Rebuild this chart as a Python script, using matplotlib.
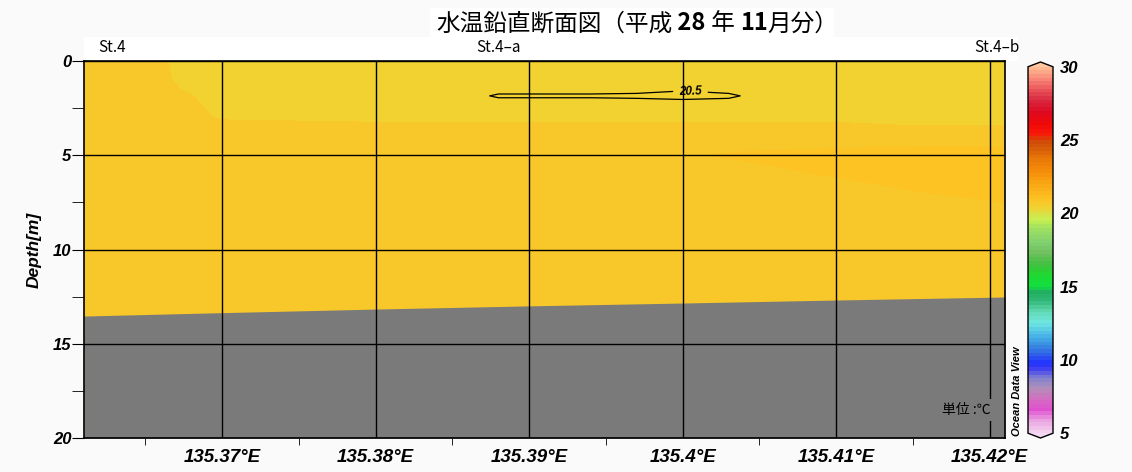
import numpy as np
import matplotlib
matplotlib.use('Agg')
import matplotlib.pyplot as plt
from matplotlib.colors import LinearSegmentedColormap, Normalize
from matplotlib.cm import ScalarMappable
from matplotlib.patches import Rectangle

# grid nodes of the section (longitude, depth) and temperature
lon_grid = [135.361, 135.3655, 135.3675, 135.370, 135.380, 135.386, 135.388, 135.394,
            135.397, 135.400, 135.403, 135.405, 135.410, 135.415, 135.421]
depth_grid = [0, 1, 1.5, 1.85, 2.2, 3.0, 3.5, 4.2, 5.0, 6.0, 7.0, 8.0, 20]
temp = [
    [20.75, 20.75, 20.45, 20.45, 20.45, 20.45, 20.45, 20.45, 20.45, 20.45, 20.45, 20.45, 20.45, 20.45, 20.45],
    [20.75, 20.75, 20.50, 20.45, 20.45, 20.45, 20.45, 20.45, 20.45, 20.45, 20.45, 20.45, 20.45, 20.45, 20.45],
    [20.75, 20.75, 20.58, 20.45, 20.45, 20.45, 20.45, 20.45, 20.45, 20.48, 20.45, 20.45, 20.45, 20.45, 20.45],
    [20.75, 20.75, 20.65, 20.45, 20.45, 20.45, 20.52, 20.52, 20.53, 20.56, 20.53, 20.45, 20.45, 20.45, 20.45],
    [20.75, 20.75, 20.70, 20.45, 20.45, 20.45, 20.45, 20.45, 20.45, 20.45, 20.45, 20.45, 20.45, 20.45, 20.45],
    [20.75, 20.75, 20.75, 20.55, 20.45, 20.45, 20.45, 20.45, 20.45, 20.45, 20.45, 20.45, 20.45, 20.45, 20.45],
    [20.75, 20.75, 20.75, 20.75, 20.75, 20.75, 20.75, 20.75, 20.75, 20.75, 20.75, 20.75, 20.75, 20.62, 20.62],
    [20.75, 20.75, 20.75, 20.75, 20.75, 20.75, 20.75, 20.75, 20.75, 20.75, 20.80, 20.80, 20.80, 20.80, 20.80],
    [20.75, 20.75, 20.75, 20.75, 20.75, 20.75, 20.75, 20.75, 20.86, 20.88, 20.92, 20.94, 20.98, 21.02, 21.05],
    [20.75, 20.75, 20.75, 20.75, 20.75, 20.75, 20.75, 20.75, 20.75, 20.75, 20.80, 20.84, 20.92, 21.00, 21.05],
    [20.75, 20.75, 20.75, 20.75, 20.75, 20.75, 20.75, 20.75, 20.75, 20.75, 20.75, 20.75, 20.80, 20.88, 21.00],
    [20.75, 20.75, 20.75, 20.75, 20.75, 20.75, 20.75, 20.75, 20.75, 20.75, 20.75, 20.75, 20.75, 20.75, 20.80],
    [20.75, 20.75, 20.75, 20.75, 20.75, 20.75, 20.75, 20.75, 20.75, 20.75, 20.75, 20.75, 20.75, 20.75, 20.75],
]
fill_levels = [20.3, 20.6, 20.9, 21.2]
contour_level = 20.5

# sea floor
bottom_lon = [135.361, 135.37, 135.38, 135.39, 135.40, 135.41, 135.421]
bottom_depth = [13.53, 13.35, 13.16, 12.99, 12.84, 12.68, 12.52]

stations = ['St.4', 'St.4\u2013a', 'St.4\u2013b']
station_lon = [135.3628, 135.388, 135.4205]

xticks = [135.37, 135.38, 135.39, 135.40, 135.41, 135.42]
xticklabels = ['135.37°E', '135.38°E', '135.39°E', '135.4°E', '135.41°E', '135.42°E']
yticks = [0, 5, 10, 15, 20]
cbar_ticks = [5, 10, 15, 20, 25, 30]

title_parts = ['水温鉛直断面図（平成', ' 28', ' 年 ', '11', '月分）']
title_bold = [False, True, False, True, False]

# ODV-like palette
pal_vals = [5.0, 5.8, 6.5, 7.3, 8.0, 8.7, 9.3, 9.7, 10.3, 11.0, 11.8, 12.5, 13.3, 14.0, 14.6,
            15.0, 15.8, 16.5, 17.3, 18.0, 19.0, 19.6, 20.0, 20.45, 20.75, 21.05, 21.5, 22.3,
            23.0, 23.8, 24.4, 25.0, 25.5, 26.2, 27.0, 27.8, 28.5, 29.3, 30.0]
pal_cols = ['#F4D0F0', '#E8A0E0', '#E050D0', '#D070C0', '#B090B8', '#8080D0', '#4040F0', '#2030FF',
            '#3060E8', '#3890E0', '#50C0E8', '#70E8E0', '#60D8B0', '#30B878', '#20B060',
            '#10E040', '#20D830', '#40C040', '#70C060', '#80D070', '#A0E060', '#C8F050', '#D8E048',
            '#F2D231', '#F8C82A', '#FDC322', '#FAB41C', '#F8A010', '#F48A08', '#E87808', '#D86008',
            '#D04A08', '#F81808', '#F00808', '#DC0A20', '#D82840', '#E85058', '#F88878', '#FFB890']

vmin, vmax = 5, 30
cmap = LinearSegmentedColormap.from_list(
    'odv', [((v - vmin) / (vmax - vmin), c) for v, c in zip(pal_vals, pal_cols)], N=512)
cmap.set_over('#FFC8A0')
cmap.set_under('#F4D8F4')
norm = Normalize(vmin, vmax)

jp = ['Noto Sans CJK JP', 'DejaVu Sans']
num = 'Liberation Sans'

fig = plt.figure(figsize=(11.32, 4.72), dpi=100, facecolor='#FAFAFA')
ax = fig.add_axes([84 / 1132, 1 - 438 / 472, (1005 - 84) / 1132, (438 - 61) / 472])

T = np.array(temp)
ax.contourf(lon_grid, depth_grid, T, levels=fill_levels, cmap=cmap, norm=norm)
# contour line only in the upper layer of the middle of the section
cs = ax.contour(lon_grid[4:13], depth_grid[:6], T[:6, 4:13], levels=[contour_level],
                colors='black', linewidths=0.9)
lbl = ax.clabel(cs, fmt='%.1f', manual=[(135.4005, 1.72)], inline=True, inline_spacing=2)
for t in lbl:
    t.set_fontsize(8.5)
    t.set_fontweight('bold')
    t.set_fontstyle('italic')
    t.set_family(num)

ax.fill_between(bottom_lon, bottom_depth, 20, color='#7A7A7A', lw=0, zorder=2)

ax.set_xlim(135.361, 135.421)
ax.set_ylim(20, 0)
ax.set_xticks(xticks)
ax.set_xticklabels(xticklabels, fontsize=13.5, fontweight='bold', fontstyle='italic', family=num)
ax.set_xticks([135.365, 135.375, 135.385, 135.395, 135.405, 135.415], minor=True)
ax.set_yticks(yticks)
ax.set_yticklabels([str(v) for v in yticks], fontsize=12, fontweight='bold', fontstyle='italic', family=num)
ax.set_yticks([2.5, 7.5, 12.5, 17.5], minor=True)
ax.tick_params(axis='x', which='major', length=0, pad=8)
ax.tick_params(axis='x', which='minor', length=5, direction='out')
ax.tick_params(axis='y', which='both', length=9, direction='out', pad=0)
ax.grid(True, which='major', color='black', lw=1, zorder=3)
ax.set_axisbelow(False)
for s in ax.spines.values():
    s.set_linewidth(1.2)
ax.set_ylabel('Depth[m]', fontsize=12.5, fontweight='bold', fontstyle='italic', family=num, labelpad=8)

# station labels on white strip
ax.add_patch(Rectangle((0, 1.0), 1.014, 0.064, transform=ax.transAxes, facecolor='white',
                       edgecolor='none', clip_on=False, zorder=0))
for name, lo in zip(stations, station_lon):
    ax.text(lo, 1.036, name, transform=ax.get_xaxis_transform(), ha='center', va='center',
            fontsize=11, family=jp)

ax.text(135.4185, 18.5, '単位 :℃', fontsize=10, family=jp, ha='center', va='center', zorder=5,
        bbox=dict(facecolor='#7A7A7A', edgecolor='none', pad=3))

# title
fig.patches.append(Rectangle((430 / 1132, 1 - 38 / 472), 404 / 1132, 30 / 472, transform=fig.transFigure,
                             facecolor='white', edgecolor='none', zorder=-1))
prev = fig.text(436 / 1132, 1 - 24 / 472, title_parts[0], fontsize=17, family=jp, va='center')
for part, b in zip(title_parts[1:], title_bold[1:]):
    prev = ax.annotate(part, xy=(1, 0), xycoords=prev, va='bottom', ha='left', fontsize=17,
                       family=jp, fontweight='bold' if b else 'normal', annotation_clip=False)

# colorbar
cax = fig.add_axes([1028 / 1132, 1 - 438 / 472, 25 / 1132, (438 - 62) / 472])
sm = ScalarMappable(norm=norm, cmap=cmap.resampled(100))
cb = fig.colorbar(sm, cax=cax, extend='both', extendfrac=0.013, ticks=cbar_ticks)
cb.outline.set_linewidth(1)
cax.tick_params(length=0, pad=5)
cax.set_yticklabels([str(v) for v in cbar_ticks], fontsize=12, fontweight='bold', fontstyle='italic', family=num)

fig.text(1017 / 1132, 1 - 391 / 472, 'Ocean Data View', rotation=90, ha='center', va='center',
         fontsize=8, fontweight='bold', fontstyle='italic', family=num)

fig.savefig('out.png', dpi=100, facecolor=fig.get_facecolor())
